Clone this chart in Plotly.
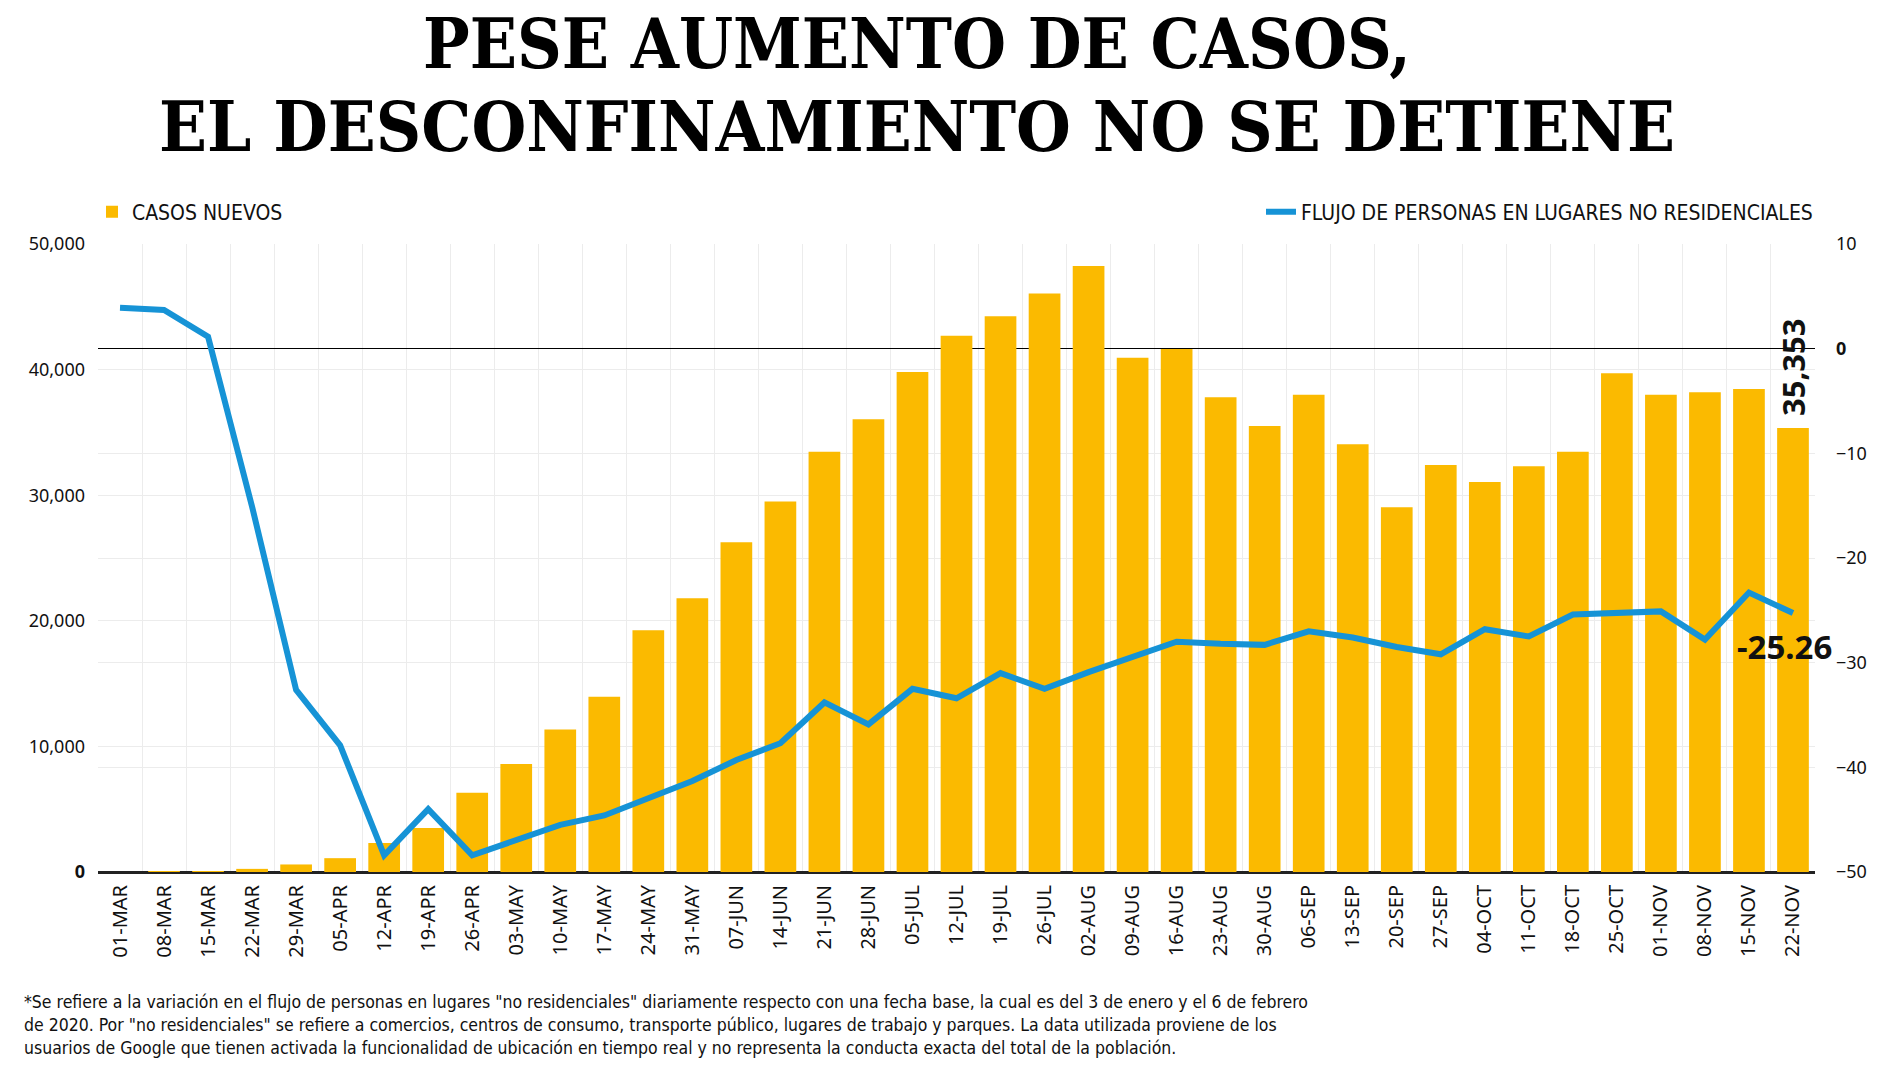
import plotly.graph_objects as go

categories = ["01-MAR", "08-MAR", "15-MAR", "22-MAR", "29-MAR", "05-APR", "12-APR", "19-APR",
              "26-APR", "03-MAY", "10-MAY", "17-MAY", "24-MAY", "31-MAY", "07-JUN", "14-JUN",
              "21-JUN", "28-JUN", "05-JUL", "12-JUL", "19-JUL", "26-JUL", "02-AUG", "09-AUG",
              "16-AUG", "23-AUG", "30-AUG", "06-SEP", "13-SEP", "20-SEP", "27-SEP", "04-OCT",
              "11-OCT", "18-OCT", "25-OCT", "01-NOV", "08-NOV", "15-NOV", "22-NOV"]

casos_nuevos = [0, 10, 60, 250, 600, 1100, 2300, 3500, 6300, 8600, 11350, 13950, 19250, 21800,
                26250, 29500, 33450, 36050, 39800, 42700, 44250, 46050, 48250, 40950, 41650,
                37800, 35500, 38000, 34050, 29050, 32400, 31050, 32300, 33450, 39700, 38000,
                38200, 38450, 35353]

flujo = [3.9, 3.7, 1.15, -15.1, -32.6, -37.9, -48.4, -44.0, -48.4, -47.0, -45.5, -44.6, -43.0,
         -41.3, -39.3, -37.7, -33.8, -35.9, -32.5, -33.4, -31.0, -32.5, -30.9, -29.4, -28.0,
         -28.2, -28.3, -27.0, -27.6, -28.5, -29.2, -26.8, -27.5, -25.4, -25.3, -25.1, -27.8,
         -23.3, -25.26]

left_ticks = [0, 10000, 20000, 30000, 40000, 50000]
left_ticktext = ["<b>0</b>", "10,000", "20,000", "30,000", "40,000", "50,000"]
right_ticks = [-50, -40, -30, -20, -10, 0, 10]
right_ticktext = ["\u221250", "\u221240", "\u221230", "\u221220", "\u221210", "<b>0</b>", "10"]

title_1 = "PESE AUMENTO DE CASOS,"
title_2 = "EL DESCONFINAMIENTO NO SE DETIENE"
footnote = ("*Se refiere a la variación en el flujo de personas en lugares \"no residenciales\" diariamente respecto con una fecha base, la cual es del 3 de enero y el 6 de febrero<br>"
            "de 2020. Por \"no residenciales\" se refiere a comercios, centros de consumo, transporte público, lugares de trabajo y parques. La data utilizada proviene de los<br>"
            "usuarios de Google que tienen activada la funcionalidad de ubicación en tiempo real y no representa la conducta exacta del total de la población.")

YELLOW = "#FBBA00"
BLUE = "#1693D6"
NARROW = "Liberation Sans Narrow, DejaVu Sans Condensed, Arial Narrow, sans-serif"
SANS = "Noto Sans, DejaVu Sans, sans-serif"
TITLE_FONT = "DejaVu Serif Condensed, Liberation Serif, serif"

W, H = 1900, 1068
L, R, T, B = 98, 85, 244, 196
ph = H - T - B
pw = W - L - R


def py(pix):
    return (H - B - pix) / ph


def px(pix):
    return (pix - L) / pw


fig = go.Figure()
fig.add_trace(go.Bar(
    x=categories, y=casos_nuevos, name="CASOS NUEVOS",
    marker=dict(color=YELLOW, line=dict(width=0)),
    legend="legend", yaxis="y",
))
fig.add_trace(go.Scatter(
    x=categories, y=flujo, name="FLUJO DE PERSONAS EN LUGARES NO RESIDENCIALES",
    mode="lines", line=dict(color=BLUE, width=6),
    legend="legend2", yaxis="y2",
))

fig.add_annotation(x=categories[-1], y=casos_nuevos[-1], xref="x", yref="y",
                   text="<b>35,353</b>", textangle=-90, showarrow=False,
                   yanchor="bottom", yshift=10,
                   font=dict(family=SANS, size=31, color="#111"))
fig.add_annotation(x=categories[-1], y=flujo[-1], xref="x", yref="y2",
                   text="<b>-25.26</b>", showarrow=False,
                   xshift=-8, yshift=-33,
                   font=dict(family=SANS, size=33, color="#111"))

fig.add_annotation(x=px(917), y=py(43), xref="paper", yref="paper", text="<b>" + title_1 + "</b>",
                   showarrow=False, xanchor="center", yanchor="middle",
                   font=dict(family=TITLE_FONT, size=69, color="#000"))
fig.add_annotation(x=px(917), y=py(127), xref="paper", yref="paper", text="<b>" + title_2 + "</b>",
                   showarrow=False, xanchor="center", yanchor="middle",
                   font=dict(family=TITLE_FONT, size=70, color="#000"))
fig.add_annotation(x=px(22), y=py(990), xref="paper", yref="paper", text=footnote, align="left",
                   showarrow=False, xanchor="left", yanchor="top",
                   font=dict(family=NARROW, size=17.5, color="#111"))

fig.update_layout(
    width=W, height=H,
    margin=dict(l=L, r=R, t=T, b=B, autoexpand=False),
    paper_bgcolor="white", plot_bgcolor="white",
    bargap=0.28,
    showlegend=True,
    legend=dict(x=px(92), y=py(212), xanchor="left", yanchor="middle",
                orientation="h", font=dict(family=NARROW, size=21, color="#111"),
                bgcolor="rgba(0,0,0,0)"),
    legend2=dict(x=px(1818), y=py(212), xanchor="right", yanchor="middle",
                 orientation="h", font=dict(family=NARROW, size=21, color="#111"),
                 bgcolor="rgba(0,0,0,0)"),
    xaxis=dict(type="category", tickangle=-90, tickson="boundaries",
               range=[-0.5, len(categories) - 0.5], autorange=False,
               showgrid=True, gridcolor="#ececec", gridwidth=1,
               ticks="", ticklabelstandoff=8,
               tickfont=dict(family=SANS, size=20, color="#111"),
               showline=False, zeroline=False),
    yaxis=dict(range=[0, 50000], tickvals=left_ticks, ticktext=left_ticktext,
               showgrid=True, gridcolor="#ececec", gridwidth=1,
               zeroline=True, zerolinecolor="#222", zerolinewidth=3,
               ticks="", ticklabelstandoff=12,
               tickfont=dict(family=SANS, size=18, color="#111")),
    yaxis2=dict(range=[-50, 10], tickvals=right_ticks, ticktext=right_ticktext,
                overlaying="y", side="right",
                showgrid=True, gridcolor="#ececec", gridwidth=1,
                zeroline=True, zerolinecolor="#000", zerolinewidth=1,
                ticks="", ticklabelstandoff=20,
                tickfont=dict(family=SANS, size=18, color="#111")),
)

fig.write_html("out.html")
